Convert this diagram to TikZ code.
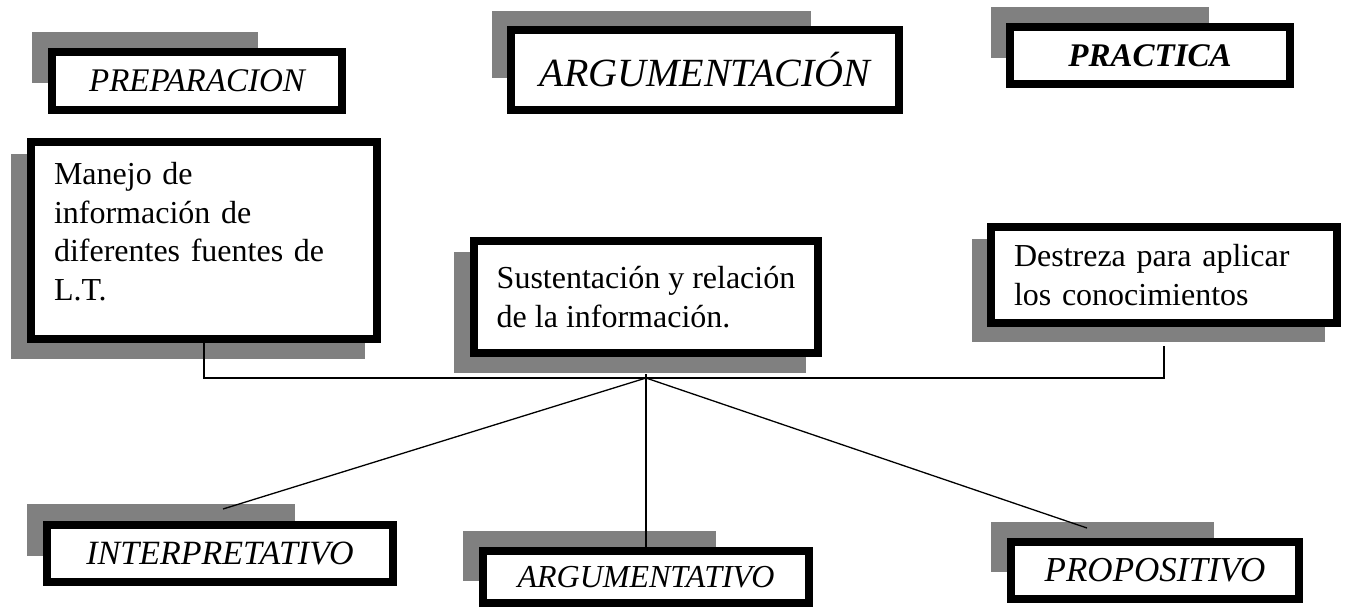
\documentclass[tikz,border=0pt]{standalone}
\usepackage{fontspec}
\setmainfont{Liberation Serif}
\usepackage{tikz}
\definecolor{mapshadow}{RGB}{128, 128, 128}
\definecolor{mapframe}{RGB}{0, 0, 0}

\begin{document}
\begin{tikzpicture}[x=1pt, y=-1pt,
    framebox/.style={draw=mapframe, line width=8pt, fill=white, inner sep=0pt},
    titlebox/.style={framebox, font=\fontsize{#1}{#1}\selectfont\itshape},
    textbox/.style={framebox, align=left, inner xsep=23pt,
      font=\fontsize{32}{38.5}\selectfont},
    conn/.style={line width=1.3pt}]
    \useasboundingbox (0,0) rectangle (1348,608);
    % shadows
    \fill [mapshadow] (32, 32) rectangle (258, 83);
    \fill [mapshadow] (492, 11) rectangle (811, 78);
    \fill [mapshadow] (991, 7) rectangle (1209, 58);
    \fill [mapshadow] (11, 154) rectangle (365, 359);
    \fill [mapshadow] (454, 252) rectangle (806, 373);
    \fill [mapshadow] (972, 239) rectangle (1325, 342);
    \fill [mapshadow] (27, 504) rectangle (295, 556);
    \fill [mapshadow] (463, 531) rectangle (716, 581);
    \fill [mapshadow] (991, 522) rectangle (1214, 572);
    % titles
    \node [titlebox=33, minimum width=290pt, minimum height=58pt] (prep) at (197, 81) {PREPARACION};
    \node [titlebox=40, minimum width=388pt, minimum height=80pt] (argtion) at (705, 70) {ARGUMENTACIÓN};
    \node [titlebox=33, minimum width=280pt, minimum height=57pt] (practica) at (1150, 55.5) {\bfseries PRACTICA};
    % contents
    \node [textbox, text width=300pt, minimum width=346pt, minimum height=197pt] (manejo) at (204, 240.5)
        {Manejo de\\información de\\diferentes fuentes de\\L.T.\\[-20pt]\mbox{}};
    \node [textbox, minimum width=344pt, minimum height=112pt] (sust) at (646, 297)
        {Sustentación y relación\\de la información.};
    \node [textbox, text width=300pt, minimum width=346pt, minimum height=96pt] (destreza) at (1164, 275)
        {Destreza para aplicar\\los conocimientos};
    % levels
    \node [titlebox=34, minimum width=346pt, minimum height=57pt] (interp) at (220, 553.5) {INTERPRETATIVO};
    \node [titlebox=32, minimum width=326pt, minimum height=52pt] (argtivo) at (646, 577) {ARGUMENTATIVO};
    \node [titlebox=35, minimum width=288pt, minimum height=57pt] (propos) at (1155, 570.5) {PROPOSITIVO};
    % connectors
    \coordinate (hub) at (646, 378);
    \coordinate (interpend) at ([shift={(3pt,12pt)}]interp.north);
    \coordinate (proposend) at ([shift={(-68pt,10pt)}]propos.north);
    \draw [conn] (manejo.south) |- (hub) -| ([yshift=-19pt]destreza.south);
    \draw [conn] ([yshift=-17pt]sust.south) -- (argtivo.north);
    \draw [conn] (hub) -- (interpend);
    \draw [conn] (hub) -- (proposend);
\end{tikzpicture}
\end{document}
